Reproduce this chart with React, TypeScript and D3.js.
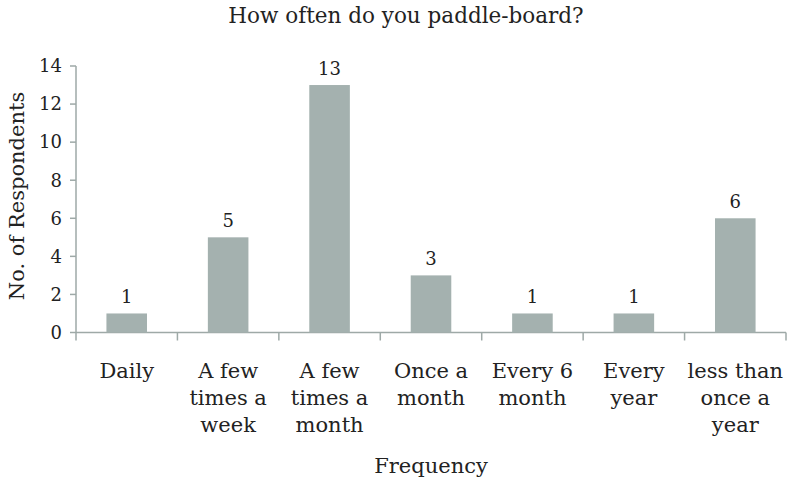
import React, { useEffect, useRef } from "react";
import * as d3 from "d3";

const categories = [
  ["Daily"],
  ["A few", "times a", "week"],
  ["A few", "times a", "month"],
  ["Once a", "month"],
  ["Every 6", "month"],
  ["Every", "year"],
  ["less than", "once a", "year"],
];
const respondents = [1, 5, 13, 3, 1, 1, 6];
const yTicks = [0, 2, 4, 6, 8, 10, 12, 14];

const App = () => {
  const svgRef = useRef<SVGSVGElement>(null);

  useEffect(() => {
    const width = 794;
    const height = 493;
    const margin = { top: 66, right: 8, bottom: 160, left: 76 };
    const font = "'DejaVu Serif', serif";
    const textSize = 21;
    const numSize = 18;

    const svg = d3.select(svgRef.current);
    svg.selectAll("*").remove();

    const keys = categories.map((c) => c.join(" "));
    const x = d3
      .scaleBand()
      .domain(keys)
      .range([margin.left, width - margin.right])
      .paddingInner(0.6)
      .paddingOuter(0.3);

    const y = d3
      .scaleLinear()
      .domain([0, 14])
      .range([height - margin.bottom - 0.5, margin.top]);

    const axisColor = "#9ea9a7";
    const step = x.step();
    const x0 = margin.left;
    const y0 = y(0);

    // title
    svg
      .append("text")
      .attr("x", 406)
      .attr("y", 23)
      .attr("text-anchor", "middle")
      .attr("font-family", font)
      .attr("font-size", 21.5)
      .attr("fill", "#222")
      .text("How often do you paddle-board?");

    // y axis line + ticks
    svg
      .append("line")
      .attr("x1", x0)
      .attr("x2", x0)
      .attr("y1", y(14))
      .attr("y2", y0)
      .attr("stroke", axisColor)
      .attr("stroke-width", 1.5);

    svg
      .selectAll(".ytick")
      .data(yTicks)
      .join("line")
      .attr("x1", x0 - 6)
      .attr("x2", x0)
      .attr("y1", (d) => y(d))
      .attr("y2", (d) => y(d))
      .attr("stroke", axisColor)
      .attr("stroke-width", 1.5);

    svg
      .selectAll(".ylabel")
      .data(yTicks)
      .join("text")
      .attr("x", x0 - 14)
      .attr("y", (d) => y(d))
      .attr("dy", "0.35em")
      .attr("text-anchor", "end")
      .attr("font-family", font)
      .attr("font-size", numSize)
      .attr("fill", "#222")
      .text((d) => d);

    // x axis line + ticks at band boundaries
    const xEnd = x0 + step * keys.length;
    svg
      .append("line")
      .attr("x1", x0)
      .attr("x2", xEnd)
      .attr("y1", y0)
      .attr("y2", y0)
      .attr("stroke", axisColor)
      .attr("stroke-width", 1.5);

    svg
      .selectAll(".xtick")
      .data(d3.range(keys.length + 1))
      .join("line")
      .attr("x1", (i) => x0 + i * step)
      .attr("x2", (i) => x0 + i * step)
      .attr("y1", y0)
      .attr("y2", y0 + 8)
      .attr("stroke", axisColor)
      .attr("stroke-width", 1.5);

    // bars
    svg
      .selectAll(".bar")
      .data(respondents)
      .join("rect")
      .attr("x", (d, i) => x(keys[i]))
      .attr("y", (d) => y(d))
      .attr("width", x.bandwidth())
      .attr("height", (d) => y0 - y(d))
      .attr("fill", "#a4b1af");

    // value labels
    svg
      .selectAll(".val")
      .data(respondents)
      .join("text")
      .attr("x", (d, i) => x(keys[i]) + x.bandwidth() / 2)
      .attr("y", (d) => y(d) - 10)
      .attr("text-anchor", "middle")
      .attr("font-family", font)
      .attr("font-size", numSize)
      .attr("fill", "#222")
      .text((d) => d);

    // category labels
    const catG = svg
      .selectAll(".cat")
      .data(categories)
      .join("text")
      .attr("text-anchor", "middle")
      .attr("font-family", font)
      .attr("font-size", textSize)
      .attr("fill", "#222");

    catG
      .selectAll("tspan")
      .data((d, i) => d.map((line) => ({ line, i })))
      .join("tspan")
      .attr("x", (d) => x(keys[d.i]) + x.bandwidth() / 2)
      .attr("y", (d, j) => 378 + j * 27)
      .text((d) => d.line);

    // axis titles
    svg
      .append("text")
      .attr("x", 431)
      .attr("y", 473)
      .attr("text-anchor", "middle")
      .attr("font-family", font)
      .attr("font-size", textSize)
      .attr("fill", "#222")
      .text("Frequency");

    svg
      .append("text")
      .attr("transform", `translate(24, 196) rotate(-90)`)
      .attr("text-anchor", "middle")
      .attr("font-family", font)
      .attr("font-size", textSize)
      .attr("fill", "#222")
      .text("No. of Respondents");
  }, []);

  return (
    <svg
      ref={svgRef}
      width={794}
      height={493}
      style={{ position: "absolute", left: 0, top: 0, background: "#fff" }}
    />
  );
};

export default App;
